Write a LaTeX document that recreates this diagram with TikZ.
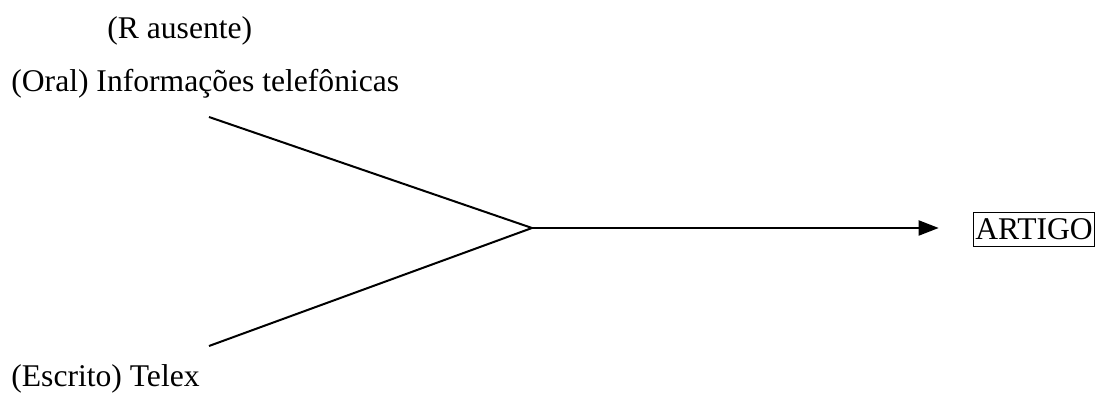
\documentclass[tikz,border=0pt]{standalone}
\usepackage{fontspec}
\setmainfont{Liberation Serif}
\usetikzlibrary{arrows.meta}

\begin{document}
\begin{tikzpicture}[x=.5pt,y=-.5pt,>={Triangle[length=10pt,width=7.5pt]},
  font=\fontsize{15.8}{18}\selectfont,
  label/.style={anchor=base west,inner sep=0pt},
  feed/.style={line width=1pt}]
\useasboundingbox (0,0) rectangle (1097,394);
\node[label] (absent) at (107,39) {(R ausente)};
\node[label] (oral) at (11,92) {(Oral) Informações telefônicas};
\node[label] (written) at (11,387) {(Escrito) Telex};
\node[draw,line width=.6pt,inner xsep=1pt,inner ysep=3pt] (artigo) at (1034,229.5) {ARTIGO};
\coordinate (top) at (209,117);
\coordinate (bottom) at (209,346);
\coordinate (meet) at (532,228);
\draw[feed] (top)--(meet);
\draw[feed] (bottom)--(meet);
\draw[feed,->,shorten >=17pt] (meet)--(meet-|artigo.west);
\end{tikzpicture}
\end{document}
